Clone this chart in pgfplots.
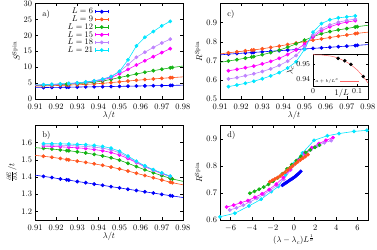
\documentclass[border=0pt]{standalone}
\usepackage{pgfplots}
\pgfplotsset{compat=1.18}
\definecolor{cA}{RGB}{0,0,250}
\definecolor{cB}{RGB}{255,85,30}
\definecolor{cC}{RGB}{20,180,20}
\definecolor{cD}{RGB}{255,0,255}
\definecolor{cE}{RGB}{190,130,255}
\definecolor{cF}{RGB}{0,230,255}
\pgfplotsset{
  panel/.style={scale only axis, width=176pt, tick align=inside,
    xtick pos=both, ytick pos=both, major tick length=3pt,
    tick style={black, line width=0.4pt}, axis line style={line width=0.5pt},
    xticklabel style={yshift=-2pt},
    clip=true},
  lamx/.style={xmin=0.91, xmax=0.98, xtick={0.91,0.92,...,0.98},
    xticklabel style={/pgf/number format/fixed,/pgf/number format/precision=2,/pgf/number format/fixed zerofill},
    xlabel={$\lambda/t$}, xlabel style={yshift=4pt}},
  ser/.style={color=#1, mark=*, mark size=1.9pt, line width=0.7pt, mark options={solid}},
  ext/.style={color=#1, line width=0.7pt, mark=none, forget plot},
  eb legend/.style={legend image code/.code={
     \draw[##1, mark=none] (0pt,0pt) -- (16pt,0pt);
     \draw[##1, mark=none] (0pt,-2pt) -- (0pt,2pt) (16pt,-2pt) -- (16pt,2pt);
     \draw[##1, only marks] plot coordinates {(8pt,0pt)};}},
}
\begin{document}
\begin{tikzpicture}
\useasboundingbox (0pt,0pt) rectangle (448.6pt,296.3pt);
% ---------------- a)
\begin{axis}[panel, lamx, at={(41.65pt,178.5pt)}, anchor=south west, height=113.6pt,
  ymin=0, ymax=30, ytick={0,5,...,30}, ylabel={$S^{\mathrm{Spin}}$}, ylabel style={yshift=-2pt},
  eb legend,
  legend style={at={(0.5,0.97)}, anchor=north east, draw=none, fill=none,
    legend cell align=right, row sep=-3.2pt, inner sep=0pt, font=\normalsize},
  legend plot pos=right]
\addplot[ser=cA] coordinates {(0.914,3.60)(0.918,3.64)(0.922,3.68)(0.925,3.71)(0.926,3.72)(0.930,3.76)(0.934,3.80)(0.938,3.84)(0.942,3.88)(0.946,3.92)(0.950,3.97)(0.954,4.02)(0.958,4.07)(0.962,4.12)(0.966,4.17)(0.970,4.22)(0.974,4.27)(0.975,4.28)};
\addlegendentry{$L=6$}
\addplot[ser=cB] coordinates {(0.914,4.10)(0.918,4.18)(0.922,4.27)(0.925,4.34)(0.926,4.37)(0.930,4.47)(0.934,4.60)(0.938,4.75)(0.942,4.93)(0.946,5.15)(0.950,5.40)(0.954,5.65)(0.958,5.88)(0.962,6.10)(0.966,6.30)(0.970,6.50)(0.974,6.68)(0.975,6.72)};
\addlegendentry{$L=9$}
\addplot[ser=cC] coordinates {(0.914,4.30)(0.918,4.40)(0.922,4.53)(0.925,4.63)(0.926,4.67)(0.930,4.83)(0.934,5.02)(0.938,5.28)(0.942,5.65)(0.946,6.15)(0.950,6.75)(0.954,7.30)(0.958,7.85)(0.962,8.40)(0.966,8.90)(0.970,9.35)(0.974,9.80)(0.975,9.90)};
\addlegendentry{$L=12$}
\addplot[ser=cD] coordinates {(0.914,4.40)(0.918,4.50)(0.922,4.63)(0.926,4.78)(0.930,4.97)(0.934,5.22)(0.938,5.55)(0.942,6.00)(0.946,6.70)(0.950,7.90)(0.954,9.30)(0.958,10.7)(0.962,12.0)(0.966,13.3)(0.970,14.6)(0.974,15.8)};
\addlegendentry{$L=15$}
\addplot[ser=cE] coordinates {(0.914,4.45)(0.918,4.57)(0.922,4.70)(0.926,4.85)(0.930,5.05)(0.934,5.32)(0.938,5.70)(0.942,6.25)(0.946,7.10)(0.950,8.60)(0.954,10.8)(0.958,13.1)(0.962,14.7)(0.966,16.2)(0.970,17.6)(0.974,18.8)};
\addlegendentry{$L=18$}
\addplot[ser=cF] coordinates {(0.914,4.50)(0.918,4.62)(0.922,4.75)(0.926,4.90)(0.930,5.08)(0.934,5.35)(0.938,5.70)(0.942,6.20)(0.946,7.00)(0.950,8.70)(0.954,12.3)(0.958,16.7)(0.962,19.4)(0.966,21.2)(0.970,23.0)(0.974,24.4)};
\addlegendentry{$L=21$}
\addplot[ext=cA] coordinates {(0.91,3.55)(0.914,3.60)};
\addplot[ext=cA] coordinates {(0.975,4.28)(0.98,4.35)};
\addplot[ext=cB] coordinates {(0.91,4.02)(0.914,4.10)};
\addplot[ext=cB] coordinates {(0.975,6.72)(0.98,6.95)};
\addplot[ext=cC] coordinates {(0.91,4.22)(0.914,4.30)};
\addplot[ext=cC] coordinates {(0.975,9.90)(0.98,10.35)};
\addplot[ext=cD] coordinates {(0.91,4.32)(0.914,4.40)};
\addplot[ext=cE] coordinates {(0.91,4.37)(0.914,4.45)};
\addplot[ext=cF] coordinates {(0.91,4.42)(0.914,4.50)};
\node[anchor=west] at (rel axis cs:0.03,0.89) {a)};
\end{axis}
% ---------------- c)
\begin{axis}[panel, lamx, at={(261.8pt,178.5pt)}, anchor=south west, height=113.6pt,
  ymin=0.5, ymax=1.0, ytick={0.5,0.6,...,0.9}, ylabel={$R^{\mathrm{Spin}}$}, ylabel style={yshift=-2pt}]
\addplot[ser=cA] coordinates {(0.914,0.735)(0.918,0.738)(0.922,0.741)(0.925,0.743)(0.926,0.744)(0.930,0.747)(0.934,0.750)(0.938,0.753)(0.942,0.756)(0.946,0.759)(0.950,0.762)(0.954,0.765)(0.958,0.768)(0.962,0.771)(0.966,0.774)(0.970,0.777)(0.974,0.780)(0.975,0.781)};
\addplot[ser=cB] coordinates {(0.914,0.742)(0.918,0.747)(0.922,0.752)(0.925,0.756)(0.926,0.757)(0.930,0.763)(0.934,0.770)(0.938,0.777)(0.942,0.785)(0.946,0.793)(0.950,0.800)(0.954,0.808)(0.958,0.815)(0.962,0.822)(0.966,0.829)(0.970,0.835)(0.974,0.842)(0.975,0.844)};
\addplot[ser=cC] coordinates {(0.914,0.699)(0.918,0.706)(0.922,0.714)(0.925,0.720)(0.926,0.722)(0.930,0.732)(0.934,0.743)(0.938,0.756)(0.942,0.771)(0.946,0.789)(0.950,0.808)(0.954,0.826)(0.958,0.842)(0.962,0.853)(0.966,0.862)(0.970,0.869)(0.974,0.877)(0.975,0.879)};
\addplot[ser=cD] coordinates {(0.914,0.648)(0.918,0.655)(0.922,0.664)(0.926,0.672)(0.930,0.684)(0.934,0.697)(0.938,0.713)(0.942,0.733)(0.946,0.757)(0.950,0.787)(0.954,0.825)(0.958,0.858)(0.962,0.878)(0.966,0.893)(0.970,0.903)(0.974,0.910)};
\addplot[ser=cE] coordinates {(0.914,0.605)(0.918,0.612)(0.922,0.622)(0.926,0.632)(0.930,0.644)(0.934,0.658)(0.938,0.676)(0.942,0.698)(0.946,0.728)(0.950,0.775)(0.954,0.835)(0.958,0.868)(0.962,0.888)(0.966,0.902)(0.970,0.912)(0.974,0.918)};
\addplot[ser=cF] coordinates {(0.914,0.565)(0.918,0.573)(0.922,0.582)(0.926,0.593)(0.930,0.606)(0.934,0.621)(0.938,0.638)(0.942,0.662)(0.946,0.695)(0.950,0.760)(0.954,0.850)(0.958,0.895)(0.962,0.915)(0.966,0.925)(0.970,0.930)(0.974,0.935)};
\addplot[ext=cA] coordinates {(0.91,0.731)(0.914,0.735)};
\addplot[ext=cA] coordinates {(0.975,0.781)(0.98,0.785)};
\addplot[ext=cB] coordinates {(0.91,0.736)(0.914,0.742)};
\addplot[ext=cB] coordinates {(0.975,0.844)(0.98,0.850)};
\addplot[ext=cC] coordinates {(0.91,0.692)(0.914,0.699)};
\addplot[ext=cC] coordinates {(0.975,0.879)(0.98,0.886)};
\node[anchor=west] at (rel axis cs:0.03,0.89) {c)};
\end{axis}
% ---------------- inset
\begin{axis}[scale only axis, at={(372.5pt,194pt)}, anchor=south west, width=65.5pt, height=38.1pt,
  axis background/.style={fill=white}, tick align=inside, xtick pos=both, ytick pos=both,
  major tick length=2pt, tick style={black},
  xmin=0, xmax=0.125, ymin=0.9355, ymax=0.957, xtick={0,0.1}, ytick={0.94,0.95},
  yticklabel style={/pgf/number format/fixed,/pgf/number format/precision=2},
  ticklabel style={font=\small},
  xlabel={$1/L$}, ylabel={$\lambda_c$},
  xlabel style={at={(axis description cs:0.52,0)}, anchor=north, yshift=0pt},
  ylabel style={yshift=-4pt},
  legend style={at={(0,0)}, anchor=south west, draw=none, fill=none, font=\tiny, inner sep=0.5pt},
  legend plot pos=right, legend image code/.code={\draw[#1] (0pt,0pt) -- (22pt,0pt);}]
\addplot[color=red!60, line width=0.6pt, mark=none] coordinates {(0,0.9565)(0.02,0.9563)(0.04,0.9556)(0.05,0.9549)(0.06,0.9538)(0.07,0.9525)(0.08,0.9509)(0.09,0.9488)(0.10,0.9463)(0.11,0.9432)(0.12,0.9395)(0.125,0.9375)};
\addlegendentry{$a+b/L^c$}
\addplot[only marks, mark=*, mark size=1.9pt, color=black] coordinates {(0.057,0.9540)(0.072,0.9524)(0.086,0.9500)(0.114,0.9418)};
\end{axis}
% ---------------- b)
\begin{axis}[panel, lamx, at={(41.65pt,34.5pt)}, anchor=south west, height=112.5pt,
  ymin=1.15, ymax=1.7, ytick={1.2,1.3,...,1.6},
  yticklabel style={/pgf/number format/fixed,/pgf/number format/precision=1},
  ylabel={$\frac{\partial E}{\partial \lambda}/t$}, ylabel style={yshift=-2pt}]
\addplot[ser=cA] coordinates {(0.914,1.404)(0.918,1.397)(0.922,1.389)(0.925,1.384)(0.926,1.382)(0.930,1.374)(0.934,1.367)(0.938,1.359)(0.942,1.352)(0.946,1.344)(0.950,1.337)(0.954,1.329)(0.958,1.322)(0.962,1.314)(0.966,1.307)(0.970,1.299)(0.974,1.292)(0.975,1.290)};
\addplot[ser=cB] coordinates {(0.914,1.521)(0.918,1.515)(0.922,1.508)(0.925,1.502)(0.926,1.500)(0.930,1.493)(0.934,1.485)(0.938,1.477)(0.942,1.468)(0.946,1.458)(0.950,1.447)(0.954,1.435)(0.958,1.422)(0.962,1.409)(0.966,1.396)(0.970,1.383)(0.974,1.370)(0.975,1.367)};
\addplot[ser=cC] coordinates {(0.914,1.567)(0.918,1.563)(0.922,1.558)(0.925,1.554)(0.926,1.553)(0.930,1.547)(0.934,1.540)(0.938,1.532)(0.942,1.523)(0.946,1.512)(0.950,1.498)(0.954,1.480)(0.958,1.461)(0.962,1.442)(0.966,1.425)(0.970,1.408)(0.974,1.393)(0.975,1.389)};
\addplot[ser=cD] coordinates {(0.914,1.580)(0.918,1.578)(0.922,1.576)(0.926,1.573)(0.930,1.570)(0.934,1.566)(0.938,1.560)(0.942,1.553)(0.946,1.543)(0.950,1.528)(0.954,1.508)(0.958,1.484)(0.962,1.460)(0.966,1.440)(0.970,1.420)(0.974,1.403)};
\addplot[ser=cE] coordinates {(0.914,1.587)(0.918,1.586)(0.922,1.585)(0.926,1.583)(0.930,1.581)(0.934,1.578)(0.938,1.574)(0.942,1.568)(0.946,1.558)(0.950,1.541)(0.954,1.515)(0.958,1.487)(0.962,1.462)(0.966,1.441)(0.970,1.422)(0.974,1.404)};
\addplot[ser=cF] coordinates {(0.914,1.594)(0.918,1.594)(0.922,1.593)(0.926,1.592)(0.930,1.590)(0.934,1.588)(0.938,1.584)(0.942,1.578)(0.946,1.568)(0.950,1.550)(0.954,1.522)(0.958,1.492)(0.962,1.465)(0.966,1.443)(0.970,1.424)(0.974,1.405)};
\addplot[ext=cA] coordinates {(0.91,1.411)(0.914,1.404)};
\addplot[ext=cA] coordinates {(0.975,1.290)(0.98,1.281)};
\addplot[ext=cB] coordinates {(0.91,1.526)(0.914,1.521)};
\addplot[ext=cB] coordinates {(0.975,1.367)(0.98,1.355)};
\addplot[ext=cC] coordinates {(0.91,1.571)(0.914,1.567)};
\addplot[ext=cC] coordinates {(0.975,1.389)(0.98,1.375)};
\node[anchor=west] at (rel axis cs:0.03,0.89) {b)};
\end{axis}
% ---------------- d)
\begin{axis}[panel, at={(261.8pt,34.5pt)}, anchor=south west, height=112.5pt,
  xmin=-7, xmax=7, xtick={-6,-4,...,6}, ymin=0.6, ymax=0.95, ytick={0.6,0.7,0.8,0.9},
  ylabel={$R^{\mathrm{Spin}}$}, ylabel style={yshift=-2pt},
  xlabel={$(\lambda-\lambda_c)L^{\frac{1}{\nu}}$}, xlabel style={yshift=2pt}]
\addplot[ser=cF] coordinates {(-7.0,0.612)(-5.6,0.625)(-4.26,0.652)(-3.1,0.677)(-2.15,0.705)(-1.48,0.724)(-0.8,0.767)(0,0.81)(0.8,0.848)(1.9,0.895)(3.16,0.912)(4.26,0.920)(5.68,0.928)(6.9,0.932)};
\addplot[ser=cE] coordinates {(-6.08,0.637)(-5.44,0.645)(-4.8,0.655)(-4.16,0.667)(-3.52,0.680)(-2.88,0.694)(-2.24,0.710)(-1.6,0.728)(-0.96,0.750)(-0.32,0.785)(0.32,0.815)(0.96,0.838)(1.6,0.860)(2.24,0.875)(2.88,0.886)(3.52,0.894)};
\addplot[ser=cD] coordinates {(-6.38,0.648)(-5.71,0.655)(-5.04,0.664)(-4.37,0.672)(-3.70,0.684)(-3.02,0.697)(-2.35,0.713)(-1.68,0.733)(-1.01,0.757)(-0.34,0.787)(0.34,0.820)(1.01,0.848)(1.68,0.868)(2.35,0.883)(3.02,0.895)(3.70,0.905)};
\addplot[ser=cC] coordinates {(-4.18,0.699)(-3.74,0.706)(-3.3,0.714)(-2.86,0.722)(-2.42,0.732)(-1.98,0.743)(-1.54,0.756)(-1.1,0.771)(-0.66,0.789)(-0.22,0.805)(0.22,0.820)(0.66,0.836)(1.1,0.850)(1.54,0.860)(1.98,0.869)(2.42,0.877)};
\addplot[ser=cB] coordinates {(-2.28,0.742)(-2.04,0.747)(-1.8,0.752)(-1.56,0.757)(-1.32,0.763)(-1.08,0.770)(-0.84,0.777)(-0.6,0.785)(-0.36,0.793)(-0.12,0.800)(0.12,0.808)(0.36,0.815)(0.6,0.822)(0.84,0.829)(1.08,0.835)(1.32,0.842)};
\addplot[ser=cA] coordinates {(-1.10,0.729)(-0.99,0.732)(-0.87,0.735)(-0.75,0.738)(-0.64,0.741)(-0.52,0.744)(-0.41,0.747)(-0.29,0.750)(-0.17,0.753)(-0.06,0.756)(0.06,0.759)(0.17,0.763)(0.29,0.767)(0.41,0.771)(0.52,0.775)(0.64,0.780)};
\node[anchor=west] at (rel axis cs:0.03,0.89) {d)};
\end{axis}
\end{tikzpicture}
\end{document}
